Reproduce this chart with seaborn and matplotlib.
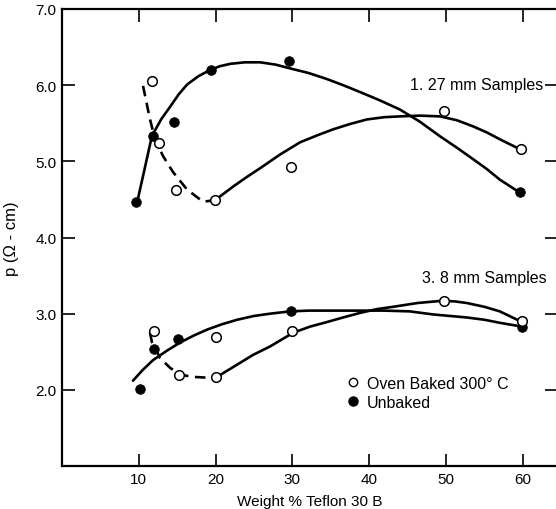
import matplotlib
matplotlib.use("Agg")
import matplotlib.pyplot as plt
import seaborn as sns
from matplotlib.lines import Line2D

sns.set_theme(style="white")
plt.rcParams['font.family'] = ['Liberation Sans Narrow', 'Liberation Sans', 'DejaVu Sans']
plt.rcParams['text.color'] = 'black'
plt.rcParams['axes.labelcolor'] = 'black'
plt.rcParams['xtick.color'] = 'black'
plt.rcParams['ytick.color'] = 'black'

# ---- data points ----
unbaked_127_x = [9.6, 11.8, 14.6, 19.4, 29.6, 59.6]
unbaked_127_y = [4.47, 5.33, 5.51, 6.20, 6.32, 4.60]
oven_127_x = [11.7, 12.6, 14.9, 19.9, 29.8, 49.7, 59.7]
oven_127_y = [6.06, 5.24, 4.62, 4.49, 4.92, 5.66, 5.16]
unbaked_38_x = [10.1, 12.0, 15.1, 29.8, 59.85]
unbaked_38_y = [2.01, 2.54, 2.67, 3.03, 2.83]
oven_38_x = [12.0, 15.2, 20.05, 20.1, 30.0, 49.8, 59.85]
oven_38_y = [2.77, 2.20, 2.70, 2.17, 2.77, 3.17, 2.91]

# ---- hand-drawn fit curves ----
curve_unb127_x = [9.8, 10.8, 11.7, 12.9, 14.1, 15.2, 16.3, 17.8, 19.3, 20.6, 21.9, 23.8, 25.8, 27.8, 29.7, 32.1, 34.5, 36.6, 38.8, 41.4, 44.0, 46.6, 49.2, 51.4, 53.5, 55.3, 57.0, 59.6]
curve_unb127_y = [4.47, 4.92, 5.33, 5.55, 5.72, 5.88, 6.01, 6.12, 6.20, 6.25, 6.28, 6.30, 6.30, 6.27, 6.22, 6.16, 6.08, 6.00, 5.91, 5.80, 5.68, 5.52, 5.33, 5.18, 5.03, 4.90, 4.76, 4.59]
curve_oven127_dash_x = [10.55, 11.46, 12.11, 13.15, 14.45, 16.28, 18.36, 19.92]
curve_oven127_dash_y = [5.99, 5.55, 5.29, 5.07, 4.86, 4.63, 4.47, 4.49]
curve_oven127_x = [19.92, 22.3, 24.0, 25.8, 28.4, 31.0, 33.2, 35.3, 37.5, 39.7, 42.0, 44.0, 46.6, 49.2, 51.4, 53.5, 55.3, 57.0, 59.6]
curve_oven127_y = [4.49, 4.67, 4.79, 4.91, 5.09, 5.25, 5.34, 5.42, 5.49, 5.55, 5.58, 5.59, 5.60, 5.59, 5.54, 5.46, 5.38, 5.29, 5.16]
curve_unb38_x = [9.24, 10.5, 11.85, 13.6, 15.36, 17.1, 18.88, 20.8, 22.8, 25.0, 27.1, 29.7, 32.1, 34.5, 38.8, 42.0, 45.3, 48.3, 50.5, 52.7, 55.0, 57.0, 59.9]
curve_unb38_y = [2.12, 2.26, 2.39, 2.51, 2.62, 2.71, 2.79, 2.86, 2.92, 2.97, 3.00, 3.03, 3.04, 3.04, 3.04, 3.04, 3.03, 2.99, 2.97, 2.95, 2.92, 2.88, 2.83]
curve_oven38_dash_x = [11.46, 11.72, 12.76, 14.06, 15.36, 17.06, 18.88, 20.18]
curve_oven38_dash_y = [2.75, 2.62, 2.42, 2.29, 2.20, 2.17, 2.16, 2.17]
curve_oven38_x = [20.18, 22.3, 24.9, 27.1, 30.1, 32.3, 34.5, 36.6, 38.8, 41.0, 43.1, 46.3, 49.6, 51.2, 52.7, 55.0, 57.0, 59.9]
curve_oven38_y = [2.17, 2.30, 2.46, 2.57, 2.75, 2.83, 2.89, 2.95, 3.01, 3.06, 3.09, 3.14, 3.17, 3.16, 3.14, 3.09, 3.03, 2.89]

x_ticks = [10, 20, 30, 40, 50, 60]
y_ticks = [2, 3, 4, 5, 6, 7]
y_tick_labels = ["2.0", "3.0", "4.0", "5.0", "6.0", "7.0"]

label_oven = "Oven Baked 300\u00b0 C"
label_unbaked = "Unbaked"

fig = plt.figure(figsize=(5.56, 5.10), dpi=100)
ax = fig.add_axes([62/556, 43/510, 495/556, 457/510])

lw = 1.9
for cx, cy in [(curve_unb127_x, curve_unb127_y), (curve_oven127_x, curve_oven127_y),
               (curve_unb38_x, curve_unb38_y), (curve_oven38_x, curve_oven38_y)]:
    sns.lineplot(x=cx, y=cy, ax=ax, sort=False, estimator=None, color='black', lw=lw, legend=False)
for cx, cy in [(curve_oven127_dash_x, curve_oven127_dash_y), (curve_oven38_dash_x, curve_oven38_dash_y)]:
    sns.lineplot(x=cx, y=cy, ax=ax, sort=False, estimator=None, color='black', lw=lw,
                 legend=False, linestyle=(0, (4, 2.5)))

ms = 48
sns.scatterplot(x=unbaked_127_x, y=unbaked_127_y, ax=ax, s=ms, color='black', edgecolor='black', zorder=5, legend=False)
sns.scatterplot(x=unbaked_38_x, y=unbaked_38_y, ax=ax, s=ms, color='black', edgecolor='black', zorder=5, legend=False)
sns.scatterplot(x=oven_127_x, y=oven_127_y, ax=ax, s=ms, color='white', edgecolor='black', linewidth=1.1, zorder=5, legend=False)
sns.scatterplot(x=oven_38_x, y=oven_38_y, ax=ax, s=ms, color='white', edgecolor='black', linewidth=1.1, zorder=5, legend=False)

ax.set_xlim(0, 64.45)
ax.set_ylim(1.0, 7.0)
ax.set_xticks(x_ticks)
ax.set_xticklabels([str(v) for v in x_ticks], fontsize=11)
ax.set_yticks(y_ticks)
ax.set_yticklabels(y_tick_labels, fontsize=11)
ax.tick_params(axis='both', direction='in', length=9, width=1.2, color='black',
               top=True, right=True, bottom=True, left=True, pad=4)
for side in ['left', 'bottom', 'top']:
    ax.spines[side].set_color('black')
    ax.spines[side].set_linewidth(1.6)
ax.spines['right'].set_visible(False)

ax.set_xlabel("Weight % Teflon 30 B", fontsize=11, labelpad=6)
ax.set_ylabel("p (\u03a9 - cm)", fontsize=12, labelpad=12)

ax.text(45.3, 6.01, "1. 27 mm Samples", fontsize=11.5, ha='left', va='center')
ax.text(46.9, 3.47, "3. 8 mm Samples", fontsize=11.5, ha='left', va='center')

handles = [Line2D([], [], marker='o', linestyle='none', markerfacecolor='white', markeredgecolor='black', markersize=6),
           Line2D([], [], marker='o', linestyle='none', markerfacecolor='black', markeredgecolor='black', markersize=6.5)]
ax.legend(handles, [label_oven, label_unbaked], loc='center left', bbox_to_anchor=(0.555, 0.16),
          frameon=False, fontsize=11.5, handletextpad=0.4, labelspacing=0.25, handlelength=1.0, borderpad=0)

fig.savefig("out.png", dpi=100)
